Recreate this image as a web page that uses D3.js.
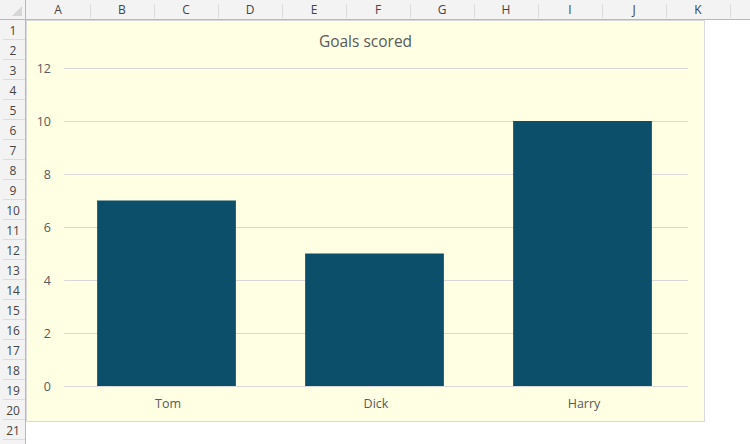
<!DOCTYPE html>
<html>
<head>
  <meta charset="utf-8">
  <script src="https://d3js.org/d3.v7.min.js"></script>
  <style>
    body { margin: 0; background: #fff; }
    svg { display: block; }
    .hdr text { font-family: "Segoe UI", "Open Sans", sans-serif; font-size: 12px; fill: #444; }
    .axis text { font-family: "Open Sans", sans-serif; font-size: 12.5px; fill: #595959; }
  </style>
</head>
<body>
  <div id="sheet"></div>
  <script>
    // chart data
    var names = ["Tom", "Dick", "Harry"];
    var goals = [7, 5, 10];
    var yTicks = [0, 2, 4, 6, 8, 10, 12];
    var title = "Goals scored";

    // spreadsheet headers
    var columns = ["A", "B", "C", "D", "E", "F", "G", "H", "I", "J", "K"];
    var rows = d3.range(1, 22);

    const width = 750, height = 444;
    const rowHdrW = 25, colHdrH = 19, colW = 64, rowH = 20;

    const svg = d3.select("#sheet").append("svg")
      .attr("width", width)
      .attr("height", height);

    // column header
    const hdr = svg.append("g").attr("class", "hdr");
    hdr.append("rect").attr("x", 0).attr("y", 0).attr("width", width).attr("height", colHdrH).attr("fill", "#f3f3f3");
    hdr.append("rect").attr("x", 0).attr("y", 0).attr("width", rowHdrW).attr("height", height).attr("fill", "#f3f3f3");

    const colX = d3.scaleLinear().domain([0, 1]).range([rowHdrW + 1, rowHdrW + 1 + colW]);
    hdr.selectAll(".col").data(columns).enter().append("text")
      .attr("x", (d, i) => colX(i + 0.5))
      .attr("y", 14)
      .attr("text-anchor", "middle")
      .text(d => d);
    hdr.selectAll(".csep").data(columns).enter().append("line")
      .attr("x1", (d, i) => colX(i + 1) + 0.5).attr("x2", (d, i) => colX(i + 1) + 0.5)
      .attr("y1", 4).attr("y2", colHdrH - 1)
      .attr("stroke", "#dcdcdc");

    const rowY = d3.scaleLinear().domain([0, 1]).range([colHdrH + 1, colHdrH + 1 + rowH]);
    hdr.selectAll(".row").data(rows).enter().append("text")
      .attr("x", 13)
      .attr("y", (d, i) => rowY(i + 0.5) + 4.5)
      .attr("text-anchor", "middle")
      .text(d => d);
    hdr.selectAll(".rsep").data(rows).enter().append("line")
      .attr("x1", 3).attr("x2", rowHdrW)
      .attr("y1", (d, i) => rowY(i + 1) - 0.5).attr("y2", (d, i) => rowY(i + 1) - 0.5)
      .attr("stroke", "#dcdcdc");

    // header borders
    hdr.append("line").attr("x1", 0).attr("x2", width).attr("y1", colHdrH + 0.5).attr("y2", colHdrH + 0.5).attr("stroke", "#b8b8b8");
    hdr.append("line").attr("x1", rowHdrW + 0.5).attr("x2", rowHdrW + 0.5).attr("y1", 0).attr("y2", height).attr("stroke", "#b8b8b8");
    // corner triangle
    hdr.append("path").attr("d", "M22,6 L22,16 L12,16 Z").attr("fill", "#d6d6d6");

    // chart object
    const cx0 = 26, cy0 = 20, cw = 678, ch = 401;
    const chart = svg.append("g").attr("transform", "translate(" + cx0 + "," + cy0 + ")");
    chart.append("rect")
      .attr("x", 0.5).attr("y", 0.5)
      .attr("width", cw).attr("height", ch)
      .attr("fill", "#ffffe3")
      .attr("stroke", "#d9d9d9");

    chart.append("text")
      .attr("x", cw / 2 + 0.5)
      .attr("y", 27)
      .attr("text-anchor", "middle")
      .style("font-family", "'Open Sans', sans-serif")
      .style("font-size", "15.5px")
      .style("fill", "#595959")
      .text(title);

    const plotL = 38, plotR = 662, plotT = 48, plotB = 366;

    const x = d3.scaleBand()
      .domain(names)
      .range([plotL, plotR])
      .paddingInner(0.333)
      .paddingOuter(0.1665);

    const y = d3.scaleLinear()
      .domain([0, 12])
      .range([plotB, plotT]);

    // gridlines + y labels
    const yAxis = chart.append("g")
      .attr("class", "axis")
      .attr("transform", "translate(" + plotL + ",0)")
      .call(d3.axisLeft(y).tickValues(yTicks).tickSize(-(plotR - plotL)).tickPadding(13));
    yAxis.select(".domain").remove();
    yAxis.selectAll(".tick line").attr("stroke", "#d9d9d9");

    // bars
    chart.selectAll(".bar")
      .data(names)
      .enter().append("rect")
      .attr("x", d => x(d) - 1.5)
      .attr("width", x.bandwidth())
      .attr("y", (d, i) => y(goals[i]))
      .attr("height", (d, i) => y(0) - y(goals[i]))
      .attr("fill", "#0b4f6b");

    // category labels
    const xAxis = chart.append("g")
      .attr("class", "axis")
      .attr("transform", "translate(0," + plotB + ")")
      .call(d3.axisBottom(x).tickSize(0).tickPadding(13));
    xAxis.select(".domain").remove();
  </script>
</body>
</html>
